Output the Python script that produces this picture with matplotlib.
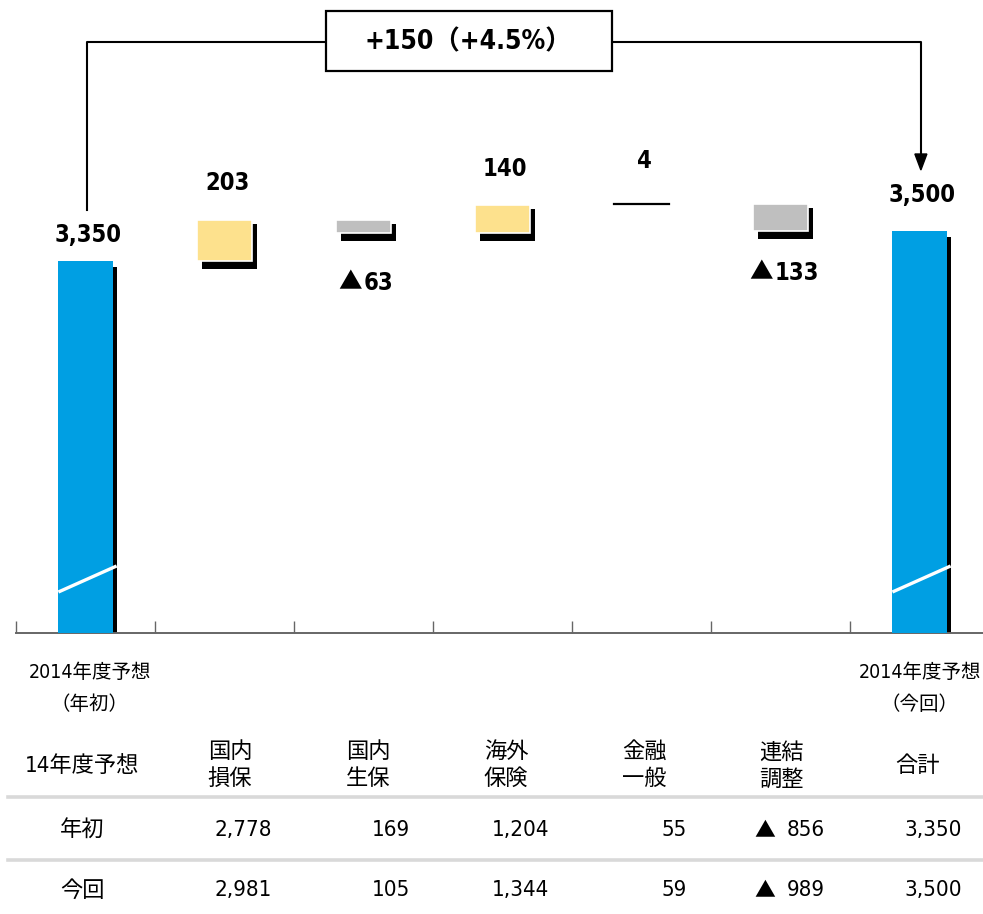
import matplotlib
matplotlib.use("Agg")
import matplotlib.pyplot as plt
from matplotlib.patches import Rectangle, Polygon
from matplotlib.lines import Line2D

# 細めの欧文＋日本語フォント
plt.rcParams['font.family'] = ['DejaVu Sans', 'Noto Sans CJK JP']
plt.rcParams['font.stretch'] = 'condensed'
CJK = ['Noto Sans CJK JP']

# 連結修正利益の増減（億円）
start_total = 3350
end_total = 3500
deltas = [203, -63, 140, 4, -133]
diff_label = '+150（+4.5%）'
side_labels = ['2014年度予想\n（年初）', '2014年度予想\n（今回）']

# 内訳表
table_cols = ['国内\n損保', '国内\n生保', '海外\n保険', '金融\n一般', '連結\n調整', '合計']
row_names = ['年初', '今回']
initial = [2778, 169, 1204, 55, -856, 3350]
current = [2981, 105, 1344, 59, -989, 3500]

BLUE = '#009fe3'
YELLOW = '#fde18d'
GRAY = '#bfbfbf'

W, H = 983, 914
fig = plt.figure(figsize=(W / 100, H / 100), dpi=100)

# 作図領域（下端が軸線）
ax_left, ax_bottom = 16, 633
ax = fig.add_axes([ax_left / W, (H - ax_bottom) / H, (W - ax_left) / W, ax_bottom / H])
ymin, ymax = 1490, 4655
xmin, xmax = -0.5, -0.5 + (W - ax_left) / 139.0
ax.set_xlim(xmin, xmax)
ax.set_ylim(ymin, ymax)
ppx = (W - ax_left) / (xmax - xmin)      # px per category
ppy = ax_bottom / (ymax - ymin)          # px per unit
dx = 1 / ppx
dy = 1 / ppy

for s in ['top', 'left', 'right']:
    ax.spines[s].set_visible(False)
ax.spines['bottom'].set_color('#666666')
ax.spines['bottom'].set_linewidth(1.4)
ax.set_yticks([])
ax.set_xticks([i - 0.5 for i in range(7)])
ax.set_xticklabels([])
ax.tick_params(axis='x', direction='in', length=9, width=1, color='#666666')

bw = 0.39


def shadow_bar(x, lo, hi, color):
    # 黒い影 → 本体の順に描く
    ax.add_patch(Rectangle((x - bw / 2 + 5 * dx, lo - 8 * dy), bw, (hi - lo) + 4 * dy,
                           facecolor='black', edgecolor='none', zorder=2))
    ax.add_patch(Rectangle((x - bw / 2, lo), bw, hi - lo,
                           facecolor=color, edgecolor='white', linewidth=1.2, zorder=3))


# 両端の合計バー
totals = [(0, start_total), (6, end_total)]
for x, v in totals:
    ax.add_patch(Rectangle((x - bw / 2 + 4 * dx, ymin), bw, v - ymin - 6 * dy,
                           facecolor='black', edgecolor='none', zorder=2))
    ax.add_patch(Rectangle((x - bw / 2, ymin), bw, v - ymin,
                           facecolor=BLUE, edgecolor='none', zorder=3))
    # 省略線
    ax.plot([x - bw / 2, x + bw / 2 + 4 * dx], [1695, 1825], color='white', lw=2.4,
            zorder=4, solid_capstyle='butt')

# 増減バー
level = start_total
tops, bottoms = [start_total], [ymin]
for i, d in enumerate(deltas):
    x = i + 1
    lo, hi = sorted([level, level + d])
    if abs(d) * ppy < 3:
        ax.plot([x - bw / 2, x + bw / 2], [hi, hi], color='black', lw=1.6, zorder=3)
    else:
        shadow_bar(x, lo, hi, YELLOW if d > 0 else GRAY)
    tops.append(hi)
    bottoms.append(lo)
    level += d
tops.append(end_total)
bottoms.append(ymin)

# 値ラベル
values = [start_total] + deltas + [end_total]
gaps = [14, 25, 38, 24, 31, 30, 24]
for i, (v, g) in enumerate(zip(values, gaps)):
    num = '{:,}'.format(abs(v))
    if v > 0:
        ax.text(i + 0.02, tops[i] + g * dy, num, ha='center', va='bottom',
                fontsize=17, fontweight='bold')
    else:
        # ▲は和文フォントで大きめに
        yl = bottoms[i] - g * dy
        w_num = 12.5 * len(num)
        split = (22 - w_num) / 2
        ax.annotate(num, (i, yl), xytext=(split * 0.72 + 1, 0), textcoords='offset points',
                    ha='left', va='top', fontsize=17, fontweight='bold')
        ax.annotate('▲', (i, yl), xytext=(split * 0.72, 0), textcoords='offset points',
                    ha='right', va='top', fontsize=17, family=CJK)

# 増減額のブラケット
yb = ymax - 42 * dy
x_box0 = (325 - 85) / 139.0
x_box1 = (611 - 85) / 139.0
ax.plot([0.01, 0.01, x_box0], [ymax - 210 * dy, yb, yb], color='black', lw=1.5,
        clip_on=False, zorder=5)
ax.plot([x_box1, 6.01, 6.01], [yb, yb, ymax - 155 * dy], color='black', lw=1.5,
        clip_on=False, zorder=5)
ax.add_patch(Polygon([[6.01 - 6 * dx, ymax - 154 * dy], [6.01 + 6 * dx, ymax - 154 * dy],
                      [6.01, ymax - 170 * dy]], closed=True, facecolor='black',
                     edgecolor='black', zorder=5))
ax.add_patch(Rectangle((x_box0, ymax - 71 * dy), x_box1 - x_box0, 60 * dy,
                       facecolor='white', edgecolor='black', linewidth=1.6, zorder=5,
                       clip_on=False))
ax.text((x_box0 + x_box1) / 2, yb, diff_label, ha='center', va='center',
        fontsize=19, fontweight='bold', zorder=6)


def fx(px):
    return px / W


def fy(py):
    return 1 - py / H


# 軸下のラベル
for (xp, lab) in zip([90, 920], side_labels):
    l1, l2 = lab.split('\n')
    fig.text(fx(xp), fy(672), l1, ha='center', va='center', fontsize=14)
    fig.text(fx(xp), fy(705), l2, ha='center', va='center', fontsize=14)

# 表
col_centers = [230, 368, 506, 644, 781, 918]
col_rights = [272, 410, 549, 687, 825, 962]
fig.text(fx(82), fy(766), '14年度予想', ha='center', va='center', fontsize=16)
for xc, c in zip(col_centers, table_cols):
    lines = c.split('\n')
    if len(lines) == 1:
        fig.text(fx(xc), fy(766), lines[0], ha='center', va='center', fontsize=16)
    else:
        fig.text(fx(xc), fy(752), lines[0], ha='center', va='center', fontsize=16)
        fig.text(fx(xc), fy(779), lines[1], ha='center', va='center', fontsize=16)

for yl in [797, 860]:
    fig.add_artist(Line2D([fx(8), fx(983)], [fy(yl), fy(yl)], color='#d9d9d9', lw=2.6))

for yr, name, vals in zip([830, 890], row_names, [initial, current]):
    fig.text(fx(82), fy(yr), name, ha='center', va='center', fontsize=16)
    for xr, v in zip(col_rights, vals):
        fig.text(fx(xr), fy(yr), '{:,}'.format(abs(v)), ha='right', va='center', fontsize=16)
        if v < 0:
            fig.text(fx(xr - 71), fy(yr), '▲', ha='left', va='center', fontsize=15,
                     family=CJK)

fig.savefig('out.png', dpi=100)
